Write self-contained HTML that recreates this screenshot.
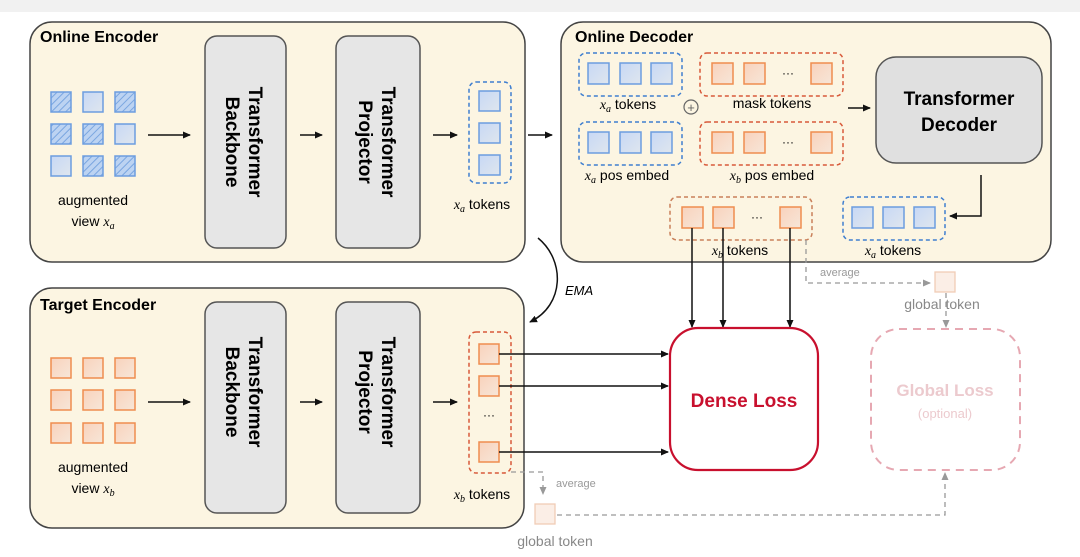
<!DOCTYPE html>
<html><head><meta charset="utf-8"><style>
body{margin:0;background:#fff}
svg{display:block;font-family:"Liberation Sans",sans-serif}
</style></head><body>
<svg width="1080" height="557" viewBox="0 0 1080 557" xmlns="http://www.w3.org/2000/svg">
<defs>
<marker id="a" markerWidth="8" markerHeight="8" refX="7" refY="4" orient="auto" markerUnits="userSpaceOnUse"><path d="M0,0.5 L8,4 L0,7.5 z" fill="#111"/></marker>
<marker id="g" markerWidth="8" markerHeight="8" refX="7" refY="4" orient="auto" markerUnits="userSpaceOnUse"><path d="M0,0.5 L8,4 L0,7.5 z" fill="#999"/></marker>
<pattern id="h" width="5" height="5" patternUnits="userSpaceOnUse" patternTransform="rotate(45)"><rect width="5" height="5" fill="#bcd3f2"/><line x1="0" y1="0" x2="0" y2="5" stroke="#7aa6e0" stroke-width="2"/></pattern>
<linearGradient id="bl" x1="0" y1="0" x2="1" y2="1"><stop offset="0" stop-color="#c7d8f5"/><stop offset="1" stop-color="#dfe6ee"/></linearGradient>
<linearGradient id="or" x1="0" y1="0" x2="1" y2="1"><stop offset="0" stop-color="#f8d2bc"/><stop offset="1" stop-color="#f7e6d8"/></linearGradient>
</defs>
<rect x="0" y="0" width="1080" height="12" fill="#f1f1f1"/>

<rect x="30" y="22" width="495" height="240" rx="22" fill="#fcf5e2" stroke="#444" stroke-width="1.5"/>
<text x="40" y="42" font-size="16" font-weight="bold">Online Encoder</text>
<g stroke="#6c9de0" stroke-width="1.5">
<rect x="51" y="92" width="20" height="20" fill="url(#h)"/><rect x="83" y="92" width="20" height="20" fill="url(#bl)"/><rect x="115" y="92" width="20" height="20" fill="url(#h)"/>
<rect x="51" y="124" width="20" height="20" fill="url(#h)"/><rect x="83" y="124" width="20" height="20" fill="url(#h)"/><rect x="115" y="124" width="20" height="20" fill="url(#bl)"/>
<rect x="51" y="156" width="20" height="20" fill="url(#bl)"/><rect x="83" y="156" width="20" height="20" fill="url(#h)"/><rect x="115" y="156" width="20" height="20" fill="url(#h)"/>
</g>
<text x="93" y="205" font-size="14" text-anchor="middle">augmented</text>
<text x="93" y="226" font-size="14" text-anchor="middle">view <tspan font-family="Liberation Serif" font-style="italic">x<tspan font-size="10" dy="3">a</tspan></tspan></text>
<line x1="148" y1="135" x2="190" y2="135" stroke="#111" stroke-width="1.5" marker-end="url(#a)"/>
<rect x="205" y="36" width="81" height="212" rx="12" fill="#e6e6e6" stroke="#555" stroke-width="1.5"/>
<text transform="translate(245,142) rotate(90)" font-size="19" font-weight="bold" text-anchor="middle"><tspan x="0" dy="-4">Transformer</tspan><tspan x="0" dy="23">Backbone</tspan></text>
<line x1="300" y1="135" x2="322" y2="135" stroke="#111" stroke-width="1.5" marker-end="url(#a)"/>
<rect x="336" y="36" width="84" height="212" rx="12" fill="#e6e6e6" stroke="#555" stroke-width="1.5"/>
<text transform="translate(378,142) rotate(90)" font-size="19" font-weight="bold" text-anchor="middle"><tspan x="0" dy="-4">Transformer</tspan><tspan x="0" dy="23">Projector</tspan></text>
<line x1="433" y1="135" x2="457" y2="135" stroke="#111" stroke-width="1.5" marker-end="url(#a)"/>
<rect x="469" y="82" width="42" height="101" rx="7" fill="none" stroke="#3f7fd0" stroke-width="1.5" stroke-dasharray="4,3"/>
<g stroke="#6c9de0" stroke-width="1.5" fill="url(#bl)"><rect x="479" y="91" width="21" height="20"/><rect x="479" y="123" width="21" height="20"/><rect x="479" y="155" width="21" height="20"/></g>
<text x="482" y="209" font-size="14" text-anchor="middle"><tspan font-family="Liberation Serif" font-style="italic">x<tspan font-size="10" dy="3">a</tspan></tspan><tspan dy="-3"> tokens</tspan></text>
<line x1="528" y1="135" x2="552" y2="135" stroke="#111" stroke-width="1.5" marker-end="url(#a)"/>

<rect x="561" y="22" width="490" height="240" rx="22" fill="#fcf5e2" stroke="#444" stroke-width="1.5"/>
<text x="575" y="42" font-size="16" font-weight="bold">Online Decoder</text>
<rect x="579" y="53" width="103" height="43" rx="7" fill="none" stroke="#3f7fd0" stroke-width="1.5" stroke-dasharray="4,3"/>
<g stroke="#6c9de0" stroke-width="1.5" fill="url(#bl)"><rect x="588" y="63" width="21" height="21"/><rect x="620" y="63" width="21" height="21"/><rect x="651" y="63" width="21" height="21"/></g>
<text x="628" y="109" font-size="14" text-anchor="middle"><tspan font-family="Liberation Serif" font-style="italic">x<tspan font-size="10" dy="3">a</tspan></tspan><tspan dy="-3"> tokens</tspan></text>
<circle cx="691" cy="107" r="7" fill="none" stroke="#666" stroke-width="1.2"/><text x="691" y="112" font-size="13" text-anchor="middle" fill="#666">+</text>
<rect x="700" y="53" width="143" height="43" rx="7" fill="none" stroke="#d85a3a" stroke-width="1.5" stroke-dasharray="4,3"/>
<g stroke="#ef8d4f" stroke-width="1.5" fill="url(#or)"><rect x="712" y="63" width="21" height="21"/><rect x="744" y="63" width="21" height="21"/><rect x="811" y="63" width="21" height="21"/></g>
<text x="788" y="77" font-size="12" text-anchor="middle">···</text>
<text x="772" y="108" font-size="14" text-anchor="middle">mask tokens</text>
<line x1="848" y1="108" x2="870" y2="108" stroke="#111" stroke-width="1.5" marker-end="url(#a)"/>
<rect x="876" y="57" width="166" height="106" rx="20" fill="#e0e0e0" stroke="#555" stroke-width="1.5"/>
<text x="959" y="105" font-size="19" font-weight="bold" text-anchor="middle">Transformer</text>
<text x="959" y="131" font-size="19" font-weight="bold" text-anchor="middle">Decoder</text>
<rect x="579" y="122" width="103" height="43" rx="7" fill="none" stroke="#3f7fd0" stroke-width="1.5" stroke-dasharray="4,3"/>
<g stroke="#6c9de0" stroke-width="1.5" fill="url(#bl)"><rect x="588" y="132" width="21" height="21"/><rect x="620" y="132" width="21" height="21"/><rect x="651" y="132" width="21" height="21"/></g>
<text x="627" y="180" font-size="14" text-anchor="middle"><tspan font-family="Liberation Serif" font-style="italic">x<tspan font-size="10" dy="3">a</tspan></tspan><tspan dy="-3"> pos embed</tspan></text>
<rect x="700" y="122" width="143" height="43" rx="7" fill="none" stroke="#d85a3a" stroke-width="1.5" stroke-dasharray="4,3"/>
<g stroke="#ef8d4f" stroke-width="1.5" fill="url(#or)"><rect x="712" y="132" width="21" height="21"/><rect x="744" y="132" width="21" height="21"/><rect x="811" y="132" width="21" height="21"/></g>
<text x="788" y="146" font-size="12" text-anchor="middle">···</text>
<text x="772" y="180" font-size="14" text-anchor="middle"><tspan font-family="Liberation Serif" font-style="italic">x<tspan font-size="10" dy="3">b</tspan></tspan><tspan dy="-3"> pos embed</tspan></text>
<rect x="670" y="197" width="142" height="43" rx="7" fill="none" stroke="#c9805a" stroke-width="1.5" stroke-dasharray="4,3"/>
<g stroke="#ef8d4f" stroke-width="1.5" fill="url(#or)"><rect x="682" y="207" width="21" height="21"/><rect x="713" y="207" width="21" height="21"/><rect x="780" y="207" width="21" height="21"/></g>
<text x="757" y="221" font-size="12" text-anchor="middle">···</text>
<text x="740" y="255" font-size="14" text-anchor="middle"><tspan font-family="Liberation Serif" font-style="italic">x<tspan font-size="10" dy="3">b</tspan></tspan><tspan dy="-3"> tokens</tspan></text>
<rect x="843" y="197" width="102" height="43" rx="7" fill="none" stroke="#3f7fd0" stroke-width="1.5" stroke-dasharray="4,3"/>
<g stroke="#6c9de0" stroke-width="1.5" fill="url(#bl)"><rect x="852" y="207" width="21" height="21"/><rect x="883" y="207" width="21" height="21"/><rect x="914" y="207" width="21" height="21"/></g>
<text x="893" y="255" font-size="14" text-anchor="middle"><tspan font-family="Liberation Serif" font-style="italic">x<tspan font-size="10" dy="3">a</tspan></tspan><tspan dy="-3"> tokens</tspan></text>
<polyline points="981,175 981,216 950,216" fill="none" stroke="#111" stroke-width="1.5" marker-end="url(#a)"/>

<path d="M538,238 C565,260 565,305 530,322" fill="none" stroke="#111" stroke-width="1.5" marker-end="url(#a)"/>
<text x="565" y="295" font-size="13" font-style="italic">EMA</text>

<rect x="30" y="288" width="494" height="240" rx="22" fill="#fcf5e2" stroke="#444" stroke-width="1.5"/>
<text x="40" y="310" font-size="16" font-weight="bold">Target Encoder</text>
<g stroke="#ef8d4f" stroke-width="1.5" fill="url(#or)">
<rect x="51" y="358" width="20" height="20"/><rect x="83" y="358" width="20" height="20"/><rect x="115" y="358" width="20" height="20"/>
<rect x="51" y="390" width="20" height="20"/><rect x="83" y="390" width="20" height="20"/><rect x="115" y="390" width="20" height="20"/>
<rect x="51" y="423" width="20" height="20"/><rect x="83" y="423" width="20" height="20"/><rect x="115" y="423" width="20" height="20"/>
</g>
<text x="93" y="472" font-size="14" text-anchor="middle">augmented</text>
<text x="93" y="493" font-size="14" text-anchor="middle">view <tspan font-family="Liberation Serif" font-style="italic">x<tspan font-size="10" dy="3">b</tspan></tspan></text>
<line x1="148" y1="402" x2="190" y2="402" stroke="#111" stroke-width="1.5" marker-end="url(#a)"/>
<rect x="205" y="302" width="81" height="211" rx="12" fill="#e6e6e6" stroke="#555" stroke-width="1.5"/>
<text transform="translate(245,392) rotate(90)" font-size="19" font-weight="bold" text-anchor="middle"><tspan x="0" dy="-4">Transformer</tspan><tspan x="0" dy="23">Backbone</tspan></text>
<line x1="300" y1="402" x2="322" y2="402" stroke="#111" stroke-width="1.5" marker-end="url(#a)"/>
<rect x="336" y="302" width="84" height="211" rx="12" fill="#e6e6e6" stroke="#555" stroke-width="1.5"/>
<text transform="translate(378,392) rotate(90)" font-size="19" font-weight="bold" text-anchor="middle"><tspan x="0" dy="-4">Transformer</tspan><tspan x="0" dy="23">Projector</tspan></text>
<line x1="433" y1="402" x2="457" y2="402" stroke="#111" stroke-width="1.5" marker-end="url(#a)"/>
<rect x="469" y="332" width="42" height="141" rx="7" fill="none" stroke="#d85a3a" stroke-width="1.5" stroke-dasharray="4,3"/>
<g stroke="#ef8d4f" stroke-width="1.5" fill="url(#or)"><rect x="479" y="344" width="20" height="20"/><rect x="479" y="376" width="20" height="20"/><rect x="479" y="442" width="20" height="20"/></g>
<text x="489" y="419" font-size="12" text-anchor="middle">···</text>
<text x="482" y="499" font-size="14" text-anchor="middle"><tspan font-family="Liberation Serif" font-style="italic">x<tspan font-size="10" dy="3">b</tspan></tspan><tspan dy="-3"> tokens</tspan></text>

<g stroke="#111" stroke-width="1.5" marker-end="url(#a)">
<line x1="499" y1="354" x2="668" y2="354"/><line x1="499" y1="386" x2="668" y2="386"/><line x1="499" y1="452" x2="668" y2="452"/>
<line x1="692" y1="228" x2="692" y2="327"/><line x1="723" y1="228" x2="723" y2="327"/><line x1="790" y1="228" x2="790" y2="327"/>
</g>
<rect x="670" y="328" width="148" height="142" rx="28" fill="#fff" stroke="#c8102e" stroke-width="2.2"/>
<text x="744" y="407" font-size="19" font-weight="bold" fill="#c8102e" text-anchor="middle">Dense Loss</text>

<g stroke="#999" stroke-width="1.3" stroke-dasharray="5,4" fill="none">
<polyline points="806,240 806,283 930,283" marker-end="url(#g)"/>
<line x1="946" y1="293" x2="946" y2="327" marker-end="url(#g)"/>
<polyline points="511,472 543,472 543,494" marker-end="url(#g)"/>
<polyline points="557,515 945,515 945,473" marker-end="url(#g)"/>
</g>
<text x="820" y="276" font-size="11" fill="#999">average</text>
<rect x="935" y="272" width="20" height="20" fill="#fbeee6" stroke="#f0cdb6" stroke-width="1.3"/>
<text x="942" y="309" font-size="14" fill="#888" text-anchor="middle">global token</text>
<text x="556" y="487" font-size="11" fill="#999">average</text>
<rect x="535" y="504" width="20" height="20" fill="#fbeee6" stroke="#f0cdb6" stroke-width="1.3"/>
<text x="555" y="546" font-size="14" fill="#888" text-anchor="middle">global token</text>
<rect x="871" y="329" width="149" height="141" rx="28" fill="#fff" stroke="#e6a8b2" stroke-width="2" stroke-dasharray="8,6"/>
<text x="945" y="396" font-size="17" font-weight="bold" fill="#eccace" text-anchor="middle">Global Loss</text>
<text x="945" y="418" font-size="13" fill="#eccace" text-anchor="middle">(optional)</text>
</svg>
</body></html>
